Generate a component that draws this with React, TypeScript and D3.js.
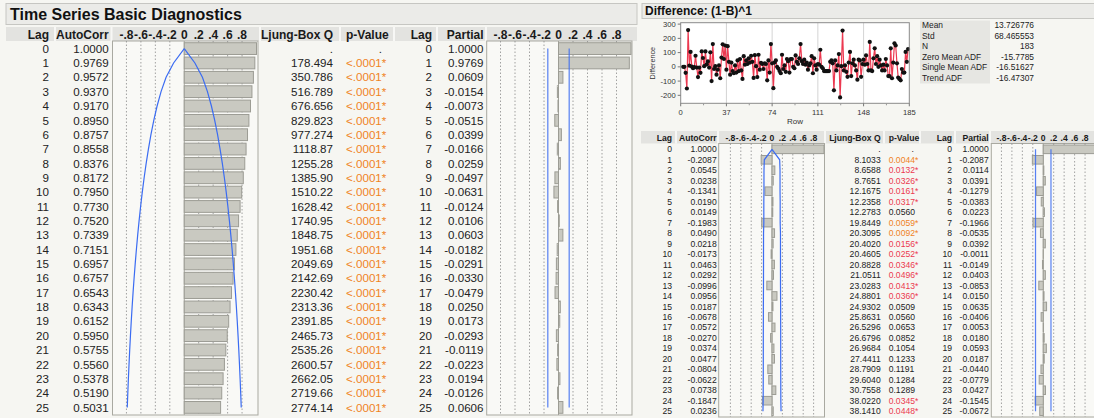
import React from 'react'
import * as d3 from 'd3'

const W = 1094
const H = 418
const FONT = '"Liberation Sans", Arial, Helvetica, sans-serif'

// ---- data: original series diagnostics ----
const lags = [0, 1, 2, 3, 4, 5, 6, 7, 8, 9, 10, 11, 12, 13, 14, 15, 16, 17, 18, 19, 20, 21, 22, 23, 24, 25]
const acfLeft = [1.0, 0.9769, 0.9572, 0.937, 0.917, 0.895, 0.8757, 0.8558, 0.8376, 0.8172, 0.795, 0.773, 0.752, 0.7339, 0.7151, 0.6957, 0.6757, 0.6543, 0.6343, 0.6152, 0.595, 0.5755, 0.556, 0.5378, 0.519, 0.5031]
const qLeft = ['.', '178.494', '350.786', '516.789', '676.656', '829.823', '977.274', '1118.87', '1255.28', '1385.90', '1510.22', '1628.42', '1740.95', '1848.75', '1951.68', '2049.69', '2142.69', '2230.42', '2313.36', '2391.85', '2465.73', '2535.26', '2600.57', '2662.05', '2719.66', '2774.14']
const pLeft = [null, 0.0001, 0.0001, 0.0001, 0.0001, 0.0001, 0.0001, 0.0001, 0.0001, 0.0001, 0.0001, 0.0001, 0.0001, 0.0001, 0.0001, 0.0001, 0.0001, 0.0001, 0.0001, 0.0001, 0.0001, 0.0001, 0.0001, 0.0001, 0.0001, 0.0001]
const pacLeft = [1.0, 0.9769, 0.0609, -0.0154, -0.0073, -0.0515, 0.0399, -0.0166, 0.0259, -0.0497, -0.0631, -0.0124, 0.0106, 0.0603, -0.0182, -0.0291, -0.033, -0.0479, 0.025, 0.0173, -0.0293, -0.0119, -0.0223, 0.0194, -0.0126, 0.0606]
const nLeft = 184

// ---- data: differenced series diagnostics ----
const acfRight = [1.0, -0.2087, 0.0545, 0.0238, -0.1341, 0.019, 0.0149, -0.1983, 0.049, 0.0218, -0.0173, 0.0463, 0.0292, -0.0996, 0.0956, 0.0187, -0.0678, 0.0572, -0.027, 0.0374, 0.0477, -0.0804, -0.0622, 0.0738, -0.1847, 0.0236]
const qRight = ['.', '8.1033', '8.6588', '8.7651', '12.1675', '12.2358', '12.2783', '19.8449', '20.3095', '20.4020', '20.4605', '20.8828', '21.0511', '23.0283', '24.8801', '24.9302', '25.8631', '26.5296', '26.6796', '26.9684', '27.4411', '28.7909', '29.6040', '30.7558', '38.0220', '38.1410']
const pRight = [null, 0.0044, 0.0132, 0.0326, 0.0161, 0.0317, 0.056, 0.0059, 0.0092, 0.0156, 0.0252, 0.0346, 0.0496, 0.0413, 0.036, 0.0509, 0.056, 0.0653, 0.0852, 0.1054, 0.1233, 0.1191, 0.1284, 0.1289, 0.0345, 0.0448]
const pacRight = [1.0, -0.2087, 0.0114, 0.0391, -0.1279, -0.0383, 0.0223, -0.1966, -0.0535, 0.0392, -0.0011, -0.0149, 0.0403, -0.0853, 0.015, 0.0635, -0.0406, 0.0053, 0.018, 0.0593, 0.0187, -0.044, -0.0779, 0.0427, -0.1545, -0.0672]
const nRight = 183

// differenced series, rows 2..184
const diffStartRow = 2
const diffValues = [
  0, 0, -42, -152, 258, 8, 105, 2, -10, -2, 78, -5, -72, -5, -42, 108, 62, 5, 108, 18,
  38, -5, 102, -100, 160, -15, 5, -55, -20, 10, -80, 65, 158, 55, 150, -20, 145, 35, -55,
  30, -30, -45, 10, -40, 45, -30, 55, -25, -85, 75, 15, 45, 20, 60, 30, 78, 35, -78, 82,
  5, -72, 85, -20, 28, 20, -15, 25, 20, -95, 45, -40, 160, 25, -150, 30, 45, 0, -12, -30,
  -45, 85, -15, 10, -35, 55, 40, -40, 55, 55, 0, -10, 80, 35, 20, 60, 160, 40, 20, 50,
  15, 30, -20, 10, 25, 75, -45, 60, 10, -20, 20, 15, 120, 0, -10, -30, -30, -30, -30, -30,
  35, 45, 25, -165, 45, -25, 10, 90, -215, 5, 255, -25, 10, -35, -70, 30, 105, -65, 25, 50,
  10, -25, -90, 50, 45, -70, 20, 50, 15, 80, 20, -25, 175, -25, -30, 60, 130, 20, 75, 0,
  50, 10, -25, 15, -25, 55, 10, -65, -65, 130, -80, 30, 165, 150, 25, -75, -85, -95, -15, -40,
  -40, 105, 35, 125,
]
const xTicks = [0, 37, 74, 111, 148, 185]
const yTicks = [-200, -100, 0, 100, 200, 300]
const statLabels = ['Mean', 'Std', 'N', 'Zero Mean ADF', 'Single Mean ADF', 'Trend ADF']
const statValues = ['13.726776', '68.465553', '183', '-15.7785', '-16.51627', '-16.47307']
const corrTicks = [-0.8, -0.6, -0.4, -0.2, 0, 0.2, 0.4, 0.6, 0.8]

const BAR_FILL = '#c9c9c1'
const BAR_STROKE = '#9c9c94'
const BLUE = '#3b6cf2'
const ORANGE = '#f0831f'
const RED = '#ec3950'

// hyphen minus, like the report
const loc = d3.formatLocale({ decimal: '.', thousands: ',', grouping: [3], currency: ['$', ''], minus: '-' })
const f4 = loc.format('.4f')

const tickLabel = (t: number) => (t === 0 ? '0' : (t < 0 ? '-' : '') + loc.format('.1f')(Math.abs(t)).replace(/^0/, ''))

const acfBand = (vals: number[], n: number) => {
  let s = 0
  return vals.map((v, k) => {
    if (k === 0) return 0
    const b = 2 * Math.sqrt((1 + 2 * s) / n)
    s += vals[k] * vals[k]
    return b
  })
}

const pColor = (p: number | null) => (p === null ? '#222' : p < 0.01 ? ORANGE : p < 0.05 ? RED : '#222')
const pText = (p: number | null, tiny: boolean) => (p === null ? '.' : tiny ? '<.0001*' : f4(p) + (p < 0.05 ? '*' : ''))

const CorrPlot = ({ x, band, values, box, top, bottom, ci, partial }: any) => {
  const cy = (l: number) => band(l) + band.bandwidth() / 2
  let blue: any = null
  if (partial) {
    blue = [-ci, ci].map((c, i) => (
      <line key={i} x1={x(c)} x2={x(c)} y1={cy(0)} y2={cy(25)} stroke={BLUE} strokeWidth={1.2} opacity={0.85} />
    ))
  } else {
    const b = acfBand(values, ci)
    const line = d3.line<number>().x((l) => x(b[l])).y((l) => cy(l))
    const lineN = d3.line<number>().x((l) => x(-b[l])).y((l) => cy(l))
    blue = [
      <path key="p" d={line(lags) || ''} fill="none" stroke={BLUE} strokeWidth={1.2} />,
      <path key="n" d={lineN(lags) || ''} fill="none" stroke={BLUE} strokeWidth={1.2} />,
    ]
  }
  return (
    <g>
      <rect x={box[0]} y={top} width={box[1] - box[0]} height={bottom - top} fill="#f9f9f6" stroke="#a9a9a1" strokeWidth={1} />
      {corrTicks.filter((t) => t !== 0).map((t) => (
        <line key={t} x1={x(t)} x2={x(t)} y1={top} y2={bottom} stroke="#8c8c8c" strokeWidth={0.8} strokeDasharray="1.5,2" />
      ))}
      <line x1={x(0)} x2={x(0)} y1={top} y2={bottom} stroke="#a4a49c" strokeWidth={1} />
      {values.map((v: number, l: number) => (
        <rect key={l} x={Math.min(x(0), x(v))} y={band(l)} width={Math.abs(x(v) - x(0))} height={band.bandwidth()}
          fill={BAR_FILL} stroke={BAR_STROKE} strokeWidth={1} />
      ))}
      {blue}
    </g>
  )
}

const DiagTable = ({ cfg, acf, q, p, pac, n, tiny }: any) => {
  const band = d3.scaleBand<number>().domain(lags).range([cfg.rowTop, cfg.rowBottom]).paddingInner(0.18).paddingOuter(0.05)
  const xa = d3.scaleLinear().domain([-1, 1]).range(cfg.acfRange)
  const xp = d3.scaleLinear().domain([-1, 1]).range(cfg.pacRange)
  const ty = (l: number) => (band(l) as number) + band.bandwidth() / 2 + cfg.fs * 0.36
  const hb = cfg.hdrBase
  const txt = { fontFamily: FONT, fontSize: cfg.fs, fill: '#222' }
  const htxt = { fontFamily: FONT, fontSize: cfg.hfs, fontWeight: 700, fill: '#1a1a1a' }
  return (
    <g>
      <rect x={cfg.x0} y={cfg.hdrTop} width={cfg.x1 - cfg.x0} height={cfg.hdrH} fill="#e3e3e0" />
      {cfg.seps.map((s: number) => (
        <line key={s} x1={s} x2={s} y1={cfg.hdrTop} y2={cfg.hdrTop + cfg.hdrH} stroke="#f7f7f5" strokeWidth={2} />
      ))}
      <text x={cfg.lagR} y={hb} textAnchor="end" style={htxt}>Lag</text>
      <text x={cfg.acfR} y={hb} textAnchor="end" style={htxt}>AutoCorr</text>
      {corrTicks.map((t) => (
        <text key={'a' + t} x={xa(t)} y={hb} textAnchor="middle" style={htxt}>{tickLabel(t)}</text>
      ))}
      <text x={cfg.qR} y={hb} textAnchor="end" style={htxt}>Ljung-Box Q</text>
      <text x={cfg.pL} y={hb} style={htxt}>p-Value</text>
      <text x={cfg.lag2R} y={hb} textAnchor="end" style={htxt}>Lag</text>
      <text x={cfg.pacR} y={hb} textAnchor="end" style={htxt}>Partial</text>
      {corrTicks.map((t) => (
        <text key={'p' + t} x={xp(t)} y={hb} textAnchor="middle" style={htxt}>{tickLabel(t)}</text>
      ))}
      <CorrPlot x={xa} band={band} values={acf} box={cfg.acfBox} top={cfg.rowTop - 1} bottom={cfg.rowBottom + 1} ci={n} />
      <CorrPlot x={xp} band={band} values={pac} box={cfg.pacBox} top={cfg.rowTop - 1} bottom={cfg.rowBottom + 1}
        ci={2 / Math.sqrt(n)} partial />
      {lags.map((l) => (
        <g key={l}>
          <text x={cfg.lagR} y={ty(l)} textAnchor="end" style={txt}>{l}</text>
          <text x={cfg.acfR} y={ty(l)} textAnchor="end" style={txt}>{f4(acf[l])}</text>
          <text x={cfg.qR} y={ty(l)} textAnchor="end" style={txt}>{q[l]}</text>
          {p[l] === null ? (
            <text x={cfg.pDotR} y={ty(l)} textAnchor="end" style={txt}>.</text>
          ) : (
            <text x={cfg.pL} y={ty(l)} style={{ ...txt, fill: pColor(p[l]) }}>{pText(p[l], tiny)}</text>
          )}
          <text x={cfg.lag2R} y={ty(l)} textAnchor="end" style={txt}>{l}</text>
          <text x={cfg.pacR} y={ty(l)} textAnchor="end" style={txt}>{f4(pac[l])}</text>
        </g>
      ))}
    </g>
  )
}

const leftCfg = {
  x0: 6, x1: 637, hdrTop: 27, hdrH: 14, hdrBase: 38.5, fs: 11.6, hfs: 12,
  seps: [55, 111.5, 260, 340, 394, 437, 486],
  rowTop: 42, rowBottom: 414,
  lagR: 49, acfR: 108.7, acfRange: [112, 256.5], acfBox: [112.5, 258],
  qR: 333, pL: 346, pDotR: 382, lag2R: 432, pacR: 483.5, pacRange: [486, 631], pacBox: [486.7, 632],
}

const rightCfg = {
  x0: 641, x1: 1094, hdrTop: 131, hdrH: 12.5, hdrBase: 140.5, fs: 8.6, hfs: 8.6,
  seps: [676, 718, 825, 884, 920, 955, 990],
  rowTop: 144.5, rowBottom: 416,
  lagR: 672, acfR: 716.7, acfRange: [720, 824], acfBox: [718.7, 824.5],
  qR: 880.7, pL: 888.7, pDotR: 914, lag2R: 952, pacR: 988.7, pacRange: [991, 1095.5], pacBox: [991.3, 1096],
}

const DiffPlot = () => {
  const x = d3.scaleLinear().domain([0, 185]).range([680.7, 909.3])
  const y = d3.scaleLinear().domain([-256, 310]).range([103.3, 22.7])
  const line = d3.line<number>().x((v, i) => x(i + diffStartRow)).y((v) => y(v))
  const small = { fontFamily: FONT, fontSize: 7.6, fill: '#333' }
  return (
    <g>
      <rect x={x(0)} y={y(310)} width={x(185) - x(0)} height={y(-256) - y(310)} fill="#ffffff" />
      {xTicks.slice(1, -1).map((t) => (
        <line key={t} x1={x(t)} x2={x(t)} y1={y(310)} y2={y(-256)} stroke="#d4d4d4" strokeWidth={1} />
      ))}
      <path d={line(diffValues) || ''} fill="none" stroke={RED} strokeWidth={1.2} />
      {diffValues.map((v, i) => (
        <circle key={i} cx={x(i + diffStartRow)} cy={y(v)} r={2.1} fill="#111" />
      ))}
      <rect x={x(0)} y={y(310)} width={x(185) - x(0)} height={y(-256) - y(310)} fill="none" stroke="#8a8a8a" strokeWidth={1} />
      {yTicks.map((t) => (
        <g key={t}>
          <line x1={x(0) - 3} x2={x(0)} y1={y(t)} y2={y(t)} stroke="#777" />
          <text x={x(0) - 5} y={y(t) + 2.6} textAnchor="end" style={small}>{t}</text>
        </g>
      ))}
      {xTicks.map((t) => (
        <g key={t}>
          <line x1={x(t)} x2={x(t)} y1={y(-256)} y2={y(-256) + 3} stroke="#777" />
          <text x={x(t)} y={y(-256) + 12} textAnchor="middle" style={small}>{t}</text>
        </g>
      ))}
      {xTicks.slice(0, -1).map((t, i) => (
        <line key={'m' + t} x1={x((t + xTicks[i + 1]) / 2)} x2={x((t + xTicks[i + 1]) / 2)} y1={y(-256)} y2={y(-256) + 2}
          stroke="#999" />
      ))}
      <text x={x(92.5)} y={124} textAnchor="middle" style={{ ...small, fontSize: 8 }}>Row</text>
      <text transform={`translate(654.5,${y(25)}) rotate(-90)`} textAnchor="middle" style={{ ...small, fontSize: 7.2 }}>
        Difference
      </text>
    </g>
  )
}

const Stats = () => {
  const rowY = d3.scaleBand<number>().domain(d3.range(statLabels.length)).range([20.5, 83.5])
  const s = { fontFamily: FONT, fontSize: 8.4, fill: '#222' }
  return (
    <g>
      <rect x={920} y={20.5} width={70} height={63} fill="#e6e6e2" />
      {statLabels.map((lab, i) => (
        <g key={lab}>
          <text x={922} y={(rowY(i) as number) + 7.8} style={s}>{lab}</text>
          <text x={1034} y={(rowY(i) as number) + 7.8} textAnchor="end" style={s}>{statValues[i]}</text>
        </g>
      ))}
    </g>
  )
}

export default function App() {
  return (
    <div style={{ position: 'fixed', left: 0, top: 0 }}>
      <style>{'body{margin:0}'}</style>
      <svg width={W} height={H} style={{ display: 'block' }}>
        <rect width={W} height={H} fill="#f6f6f2" />
        {/* left report */}
        <rect x={6} y={3.5} width={631} height={21} fill="#ebebe8" stroke="#c6c6c2" />
        <text x={10} y={20} style={{ fontFamily: FONT, fontSize: 16, fontWeight: 700, fill: '#111' }}>
          Time Series Basic Diagnostics
        </text>
        <DiagTable cfg={leftCfg} acf={acfLeft} q={qLeft} p={pLeft} pac={pacLeft} n={nLeft} tiny />
        {/* right report */}
        <rect x={642} y={3.5} width={455} height={15} fill="#ebebe8" stroke="#c6c6c2" />
        <text x={645} y={15.3} style={{ fontFamily: FONT, fontSize: 12, fontWeight: 700, fill: '#111' }}>
          Difference: (1-B)^1
        </text>
        <DiffPlot />
        <Stats />
        <DiagTable cfg={rightCfg} acf={acfRight} q={qRight} p={pRight} pac={pacRight} n={nRight} />
      </svg>
    </div>
  )
}
